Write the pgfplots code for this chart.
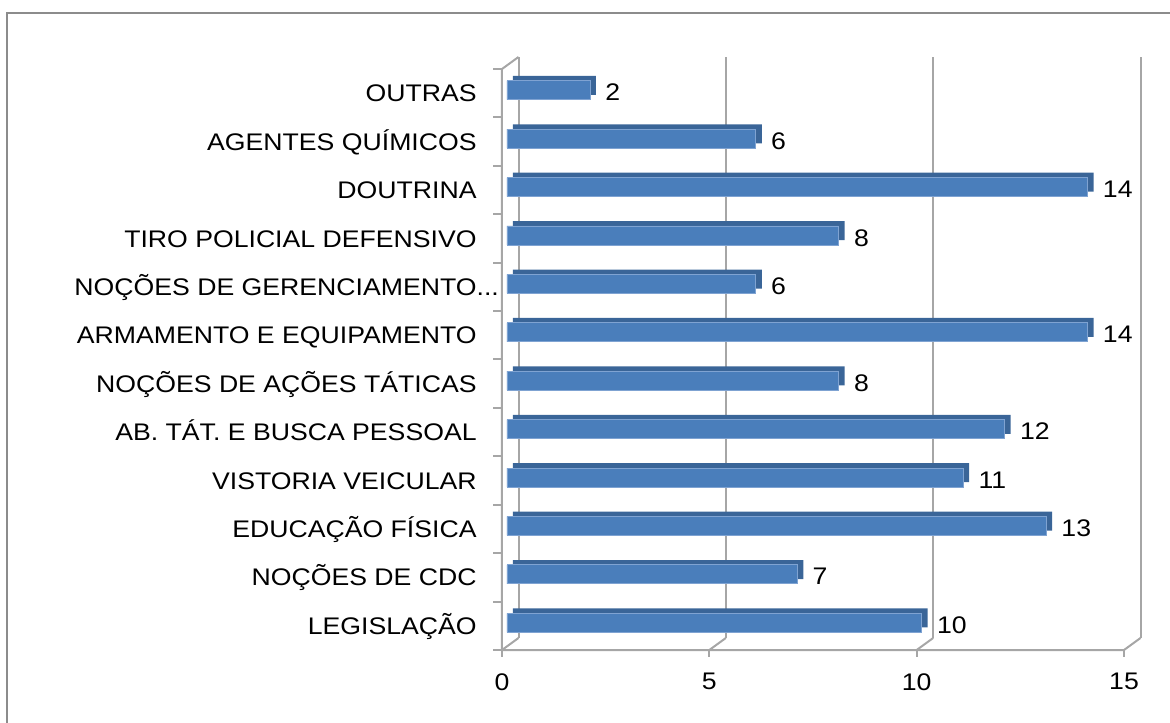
\documentclass[border=0pt]{standalone}
\usepackage{fontspec}
\setmainfont{Liberation Sans}[FakeStretch=1.11]
\usepackage{pgfplots}
\pgfplotsset{compat=1.18}
\definecolor{barfront}{HTML}{4A7EBB}
\definecolor{baredge}{HTML}{7FA3D2}
\definecolor{bartop}{HTML}{3A6598}
\definecolor{gridc}{HTML}{A6A6A6}
\definecolor{framec}{HTML}{8C8C8C}
\pgfplotstableread{
y v
0 10
1 7
2 13
3 11
4 12
5 8
6 14
7 6
8 8
9 14
10 6
11 2
}\datatable
\begin{document}
\begin{tikzpicture}
\useasboundingbox (-251pt,-36pt) rectangle (334pt,325pt);
\draw[framec, line width=1.2pt] (-247.5pt,-40pt) -- (-247.5pt,318.5pt) -- (340pt,318.5pt);
\begin{axis}[at={(0pt,0pt)}, anchor=south west, scale only axis,
 width=311pt, height=290.5pt,
 xmin=0, xmax=15, ymin=-0.5, ymax=11.5, clip=false,
 axis line style={draw=none}, major tick length=0pt,
 xtick={0,5,10,15}, ytick={0,...,11},
 yticklabels={LEGISLAÇÃO, NOÇÕES DE CDC, EDUCAÇÃO FÍSICA, VISTORIA VEICULAR, AB. TÁT. E BUSCA PESSOAL, NOÇÕES DE AÇÕES TÁTICAS, ARMAMENTO E EQUIPAMENTO, {NOÇÕES DE GERENCIAMENTO\rlap{...}}, TIRO POLICIAL DEFENSIVO, DOUTRINA, AGENTES QUÍMICOS, OUTRAS},
 /pgf/number format/assume math mode=true,
 every tick label/.append style={font=\fontsize{12}{14}\selectfont},
 yticklabel style={anchor=east, inner sep=0pt, xshift=-12.5pt, text height=8.6pt, text depth=0pt},
 xticklabel style={anchor=north, inner sep=0pt, yshift=-11.5pt},
]
% back wall verticals, floor diagonals, bottom ticks
\pgfplotsinvokeforeach{0,5,10,15}{
 \draw[gridc, line width=1pt] (axis cs:#1+0.398,-0.252) -- (axis cs:#1+0.398,11.748);
 \draw[gridc, line width=1pt] (axis cs:#1,-0.5) -- (axis cs:#1+0.398,-0.252);
 \draw[gridc, line width=1pt] (axis cs:#1,-0.5) -- (axis cs:#1,-0.645);
}
\draw[gridc, line width=1pt] (axis cs:15,-0.5) -- (axis cs:0,-0.5) -- (axis cs:0,11.5) -- (axis cs:0.398,11.748);
% left ticks
\pgfplotsinvokeforeach{-0.5,0.5,1.5,2.5,3.5,4.5,5.5,6.5,7.5,8.5,9.5,10.5,11.5}{
 \draw[gridc, line width=1pt] (axis cs:0,#1) -- (axis cs:-0.217,#1);
}
\addplot[xbar, bar shift=0pt, bar width=9.5pt, fill=bartop, draw=none, xshift=5.5pt, yshift=3.9pt] table[x=v, y=y] {\datatable};
\addplot[xbar, bar shift=0pt, bar width=9.5pt, fill=barfront, draw=baredge, line width=0.4pt, xshift=2.5pt, yshift=1.5pt,
 point meta=x, nodes near coords={\pgfmathprintnumber[assume math mode=true]{\pgfplotspointmeta}},
 every node near coord/.append style={anchor=west, inner sep=0pt, xshift=7.5pt, yshift=-1pt, text height=8.6pt, text depth=0pt, font=\fontsize{12}{14}\selectfont, black}] table[x=v, y=y] {\datatable};
\end{axis}
\end{tikzpicture}
\end{document}
